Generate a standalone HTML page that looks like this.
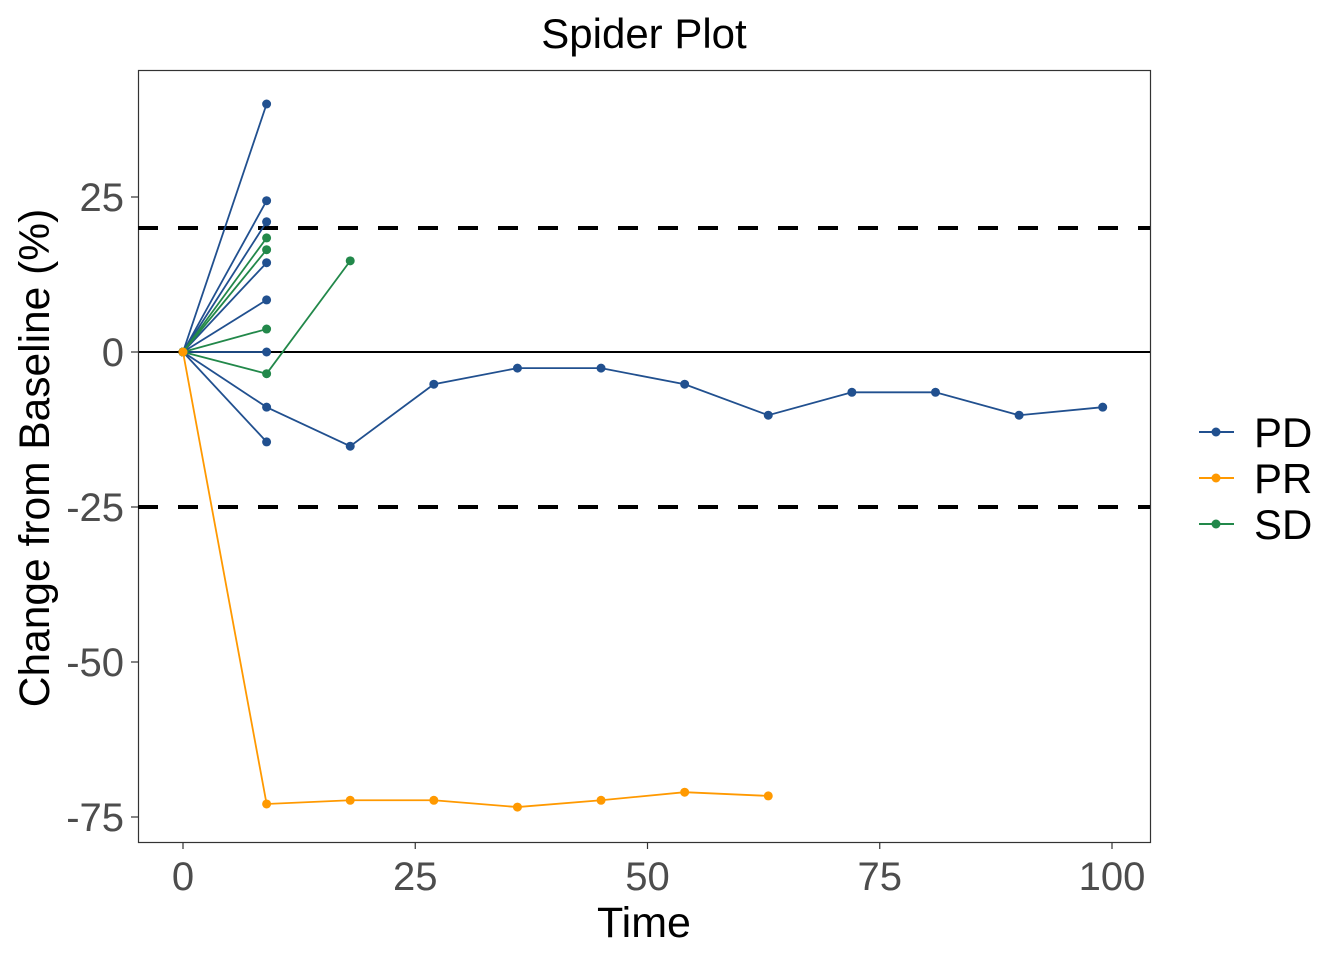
<!DOCTYPE html>
<html><head><meta charset="utf-8"><style>body{margin:0;background:#fff}svg text{font-family:"Liberation Sans",sans-serif}</style></head>
<body>
<svg id="c" width="1344" height="960" xmlns="http://www.w3.org/2000/svg">
<text x="644" y="48" font-size="42" text-anchor="middle">Spider Plot</text>
<rect x="138.5" y="70.5" width="1012" height="772" fill="none" stroke="#333" stroke-width="1.2"/>
<g id="g"></g>
<text x="644" y="937" font-size="43" text-anchor="middle">Time</text>
<text transform="translate(49,458) rotate(-90)" font-size="42.5" text-anchor="middle">Change from Baseline (%)</text>
</svg>
<script>
const xTicks=[0,25,50,75,100];
const yTicks=[25,0,-25,-50,-75];
const refLines=[20,-25];
const seriesNames=["PD","PR","SD"];
const seriesColors=["#21508f","#ff9900","#22884a"];
const patientGroups=["PD","PD","PD","PD","PD","PD","PD","PD","SD","SD","SD","SD","PR"];
const patientTimes=[[0,9],[0,9],[0,9],[0,9],[0,9],[0,9],[0,9,18,27,36,45,54,63,72,81,90,99],[0,9],[0,9],[0,9],[0,9],[0,9,18],[0,9,18,27,36,45,54,63]];
const patientValues=[[0,40],[0,24.4],[0,21],[0,14.4],[0,8.4],[0,0],[0,-8.9,-15.2,-5.2,-2.6,-2.6,-5.2,-10.2,-6.5,-6.5,-10.2,-8.9],[0,-14.5],[0,18.4],[0,16.5],[0,3.7],[0,-3.5,14.7],[0,-72.9,-72.3,-72.3,-73.4,-72.3,-71,-71.6]];
const X=v=>183+v*9.29, Y=v=>352-v*6.2;
const NS="http://www.w3.org/2000/svg", g=document.getElementById('g');
function mk(t,a){const e=document.createElementNS(NS,t);for(const k in a)e.setAttribute(k,a[k]);g.appendChild(e);return e;}
xTicks.forEach(t=>{mk('line',{x1:X(t),x2:X(t),y1:842,y2:849,stroke:'#333','stroke-width':1.2});
const e=mk('text',{x:X(t),y:890,'font-size':40,fill:'#4d4d4d','text-anchor':'middle'});e.textContent=t;

});
yTicks.forEach(t=>{mk('line',{x1:131,x2:138,y1:Y(t),y2:Y(t),stroke:'#333','stroke-width':1.2});
const e=mk('text',{x:124,y:Y(t)+14,'font-size':40,fill:'#4d4d4d','text-anchor':'end'});e.textContent=t;

});
refLines.forEach(r=>{const l=mk('line',{x1:138,x2:1150,y1:Y(r),y2:Y(r),stroke:'#000','stroke-width':4,'stroke-dasharray':'20 20'});

});
const z=mk('line',{x1:139,x2:1150,y1:Y(0),y2:Y(0),stroke:'#000','stroke-width':2});


patientValues.forEach((vals,i)=>{const col=seriesColors[seriesNames.indexOf(patientGroups[i])];
const p=mk('polyline',{points:vals.map((v,j)=>X(patientTimes[i][j])+','+Y(v)).join(' '),fill:'none',stroke:col,'stroke-width':1.8});


vals.forEach((v,j)=>{const c=mk('circle',{cx:X(patientTimes[i][j]),cy:Y(v),r:4.5,fill:col});

});});
seriesNames.forEach((s,i)=>{const y=432+i*46;
mk('line',{x1:1199,x2:1234,y1:y,y2:y,stroke:seriesColors[i],'stroke-width':2});
mk('circle',{cx:1216,cy:y,r:4.5,fill:seriesColors[i]});
const t=mk('text',{x:1254,y:y+15,'font-size':42});t.textContent=s;

});
</script>
</body></html>
